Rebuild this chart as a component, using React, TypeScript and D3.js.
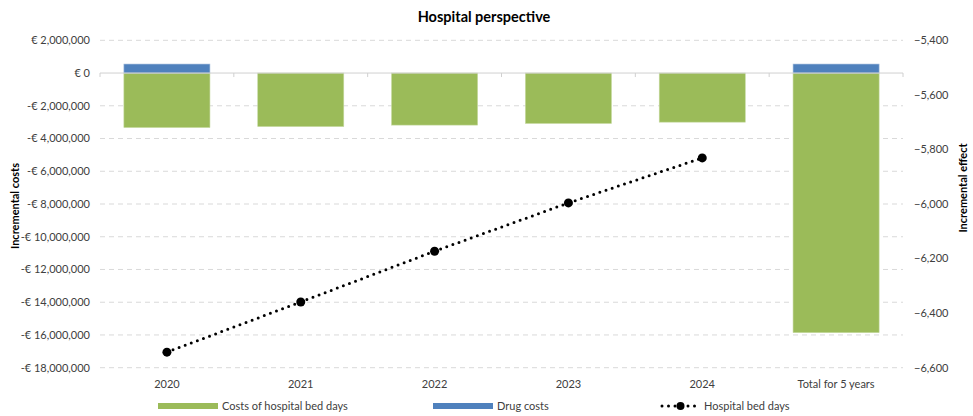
import React from "react";
import * as d3 from "d3";

const categories = ["2020", "2021", "2022", "2023", "2024", "Total for 5 years"];
const bedDayCosts = [-3330000, -3270000, -3180000, -3080000, -3000000, -15860000];
const drugCosts = [550000, 0, 0, 0, 0, 550000];
const bedDays = [-6543, -6359, -6173, -5996, -5831];
const costTicks = [2e6, 0, -2e6, -4e6, -6e6, -8e6, -10e6, -12e6, -14e6, -16e6, -18e6];
const effectTicks = [-5400, -5600, -5800, -6000, -6200, -6400, -6600];

const W = 973;
const H = 416;
const FONT = "Lato, 'Open Sans', sans-serif";
const GREEN = "#9BBB59";
const BLUE = "#4F81BD";
const GRID = "#d9d9d9";
const TEXT = "#404040";

const plot = { left: 100, right: 903, top: 40.3, bottom: 367.7 };

const x = d3.scaleBand<string>()
  .domain(categories)
  .range([plot.left, plot.right])
  .paddingInner(0.357)
  .paddingOuter(0.1785);

const yCost = d3.scaleLinear().domain([-18e6, 2e6]).range([plot.bottom, plot.top]);
const yEffect = d3.scaleLinear().domain([-6600, -5400]).range([plot.bottom, plot.top]);

const fmtNum = d3.format(",");
const fmtCost = (v: number) => (v < 0 ? "-€ " : "€ ") + fmtNum(Math.abs(v));

const line = d3.line<number>()
  .x((_, i) => (x(categories[i]) as number) + x.bandwidth() / 2)
  .y((d) => yEffect(d));

export default function App() {
  const zeroY = yCost(0);
  const step = x.step();
  const boundaries = d3.range(categories.length + 1).map((i) => plot.left + i * step);
  return (
    <svg width={W} height={H} style={{ position: "absolute", left: 0, top: 0, background: "#fff" }} fontFamily={FONT}>
      <text x={484} y={22} textAnchor="middle" fontSize={14.5} fontWeight="bold" fill="#000">
        Hospital perspective
      </text>

      {/* gridlines */}
      {costTicks.filter((t) => t !== 0).map((t) => (
        <line key={t} x1={plot.left} x2={plot.right} y1={yCost(t)} y2={yCost(t)}
          stroke={GRID} strokeWidth={1} strokeDasharray="5,4" />
      ))}

      {/* left axis labels */}
      {costTicks.map((t) => (
        <text key={t} x={90} y={yCost(t)} dy="0.35em" textAnchor="end" fontSize={11} fill={TEXT}>
          {fmtCost(t)}
        </text>
      ))}
      <text transform={`translate(19,${(plot.top + plot.bottom) / 2 + 2}) rotate(-90)`} textAnchor="middle"
        fontSize={11} fontWeight="bold" fill="#000">
        Incremental costs
      </text>

      {/* right axis labels */}
      {effectTicks.map((t) => (
        <text key={t} x={914} y={yEffect(t)} dy="0.35em" textAnchor="start" fontSize={11} fill={TEXT}>
          {fmtNum(t)}
        </text>
      ))}
      <text transform={`translate(967,${188}) rotate(-90)`} textAnchor="middle"
        fontSize={11} fontWeight="bold" fill="#000">
        Incremental effect
      </text>

      {/* bars */}
      {categories.map((c, i) => (
        <g key={c}>
          <rect x={x(c)} y={zeroY} width={x.bandwidth()} height={yCost(bedDayCosts[i]) - zeroY}
            fill={GREEN} stroke="#c5d9a0" strokeWidth={0.6} />
          {drugCosts[i] > 0 && (
            <rect x={x(c)} y={yCost(drugCosts[i])} width={x.bandwidth()} height={zeroY - yCost(drugCosts[i])}
              fill={BLUE} stroke="#a9c0de" strokeWidth={0.6} />
          )}
        </g>
      ))}

      {/* zero axis with category ticks */}
      <line x1={plot.left} x2={plot.right} y1={zeroY} y2={zeroY} stroke="#d0d0d0" strokeWidth={1} />
      {boundaries.map((b) => (
        <line key={b} x1={b} x2={b} y1={zeroY} y2={zeroY + 4} stroke="#d0d0d0" strokeWidth={1} />
      ))}

      {/* hospital bed days line */}
      <path d={line(bedDays) || ""} fill="none" stroke="#000" strokeWidth={3}
        strokeDasharray="0,6.5" strokeLinecap="round" />
      {bedDays.map((d, i) => (
        <circle key={i} cx={(x(categories[i]) as number) + x.bandwidth() / 2} cy={yEffect(d)} r={4.5} fill="#000" />
      ))}

      {/* category labels */}
      {categories.map((c) => (
        <text key={c} x={(x(c) as number) + x.bandwidth() / 2} y={388} textAnchor="middle" fontSize={11} fill={TEXT}>
          {c}
        </text>
      ))}

      {/* legend */}
      <g fontSize={11} fill={TEXT}>
        <rect x={158} y={403} width={60} height={6} fill={GREEN} />
        <text x={222} y={406} dy="0.35em">Costs of hospital bed days</text>
        <rect x={433} y={403} width={60} height={6} fill={BLUE} />
        <text x={497} y={406} dy="0.35em">Drug costs</text>
        <line x1={662} x2={699} y1={406} y2={406} stroke="#000" strokeWidth={3} strokeDasharray="0,6.5" strokeLinecap="round" />
        <circle cx={680.5} cy={406} r={4} fill="#000" />
        <text x={704} y={406} dy="0.35em">Hospital bed days</text>
      </g>
    </svg>
  );
}
